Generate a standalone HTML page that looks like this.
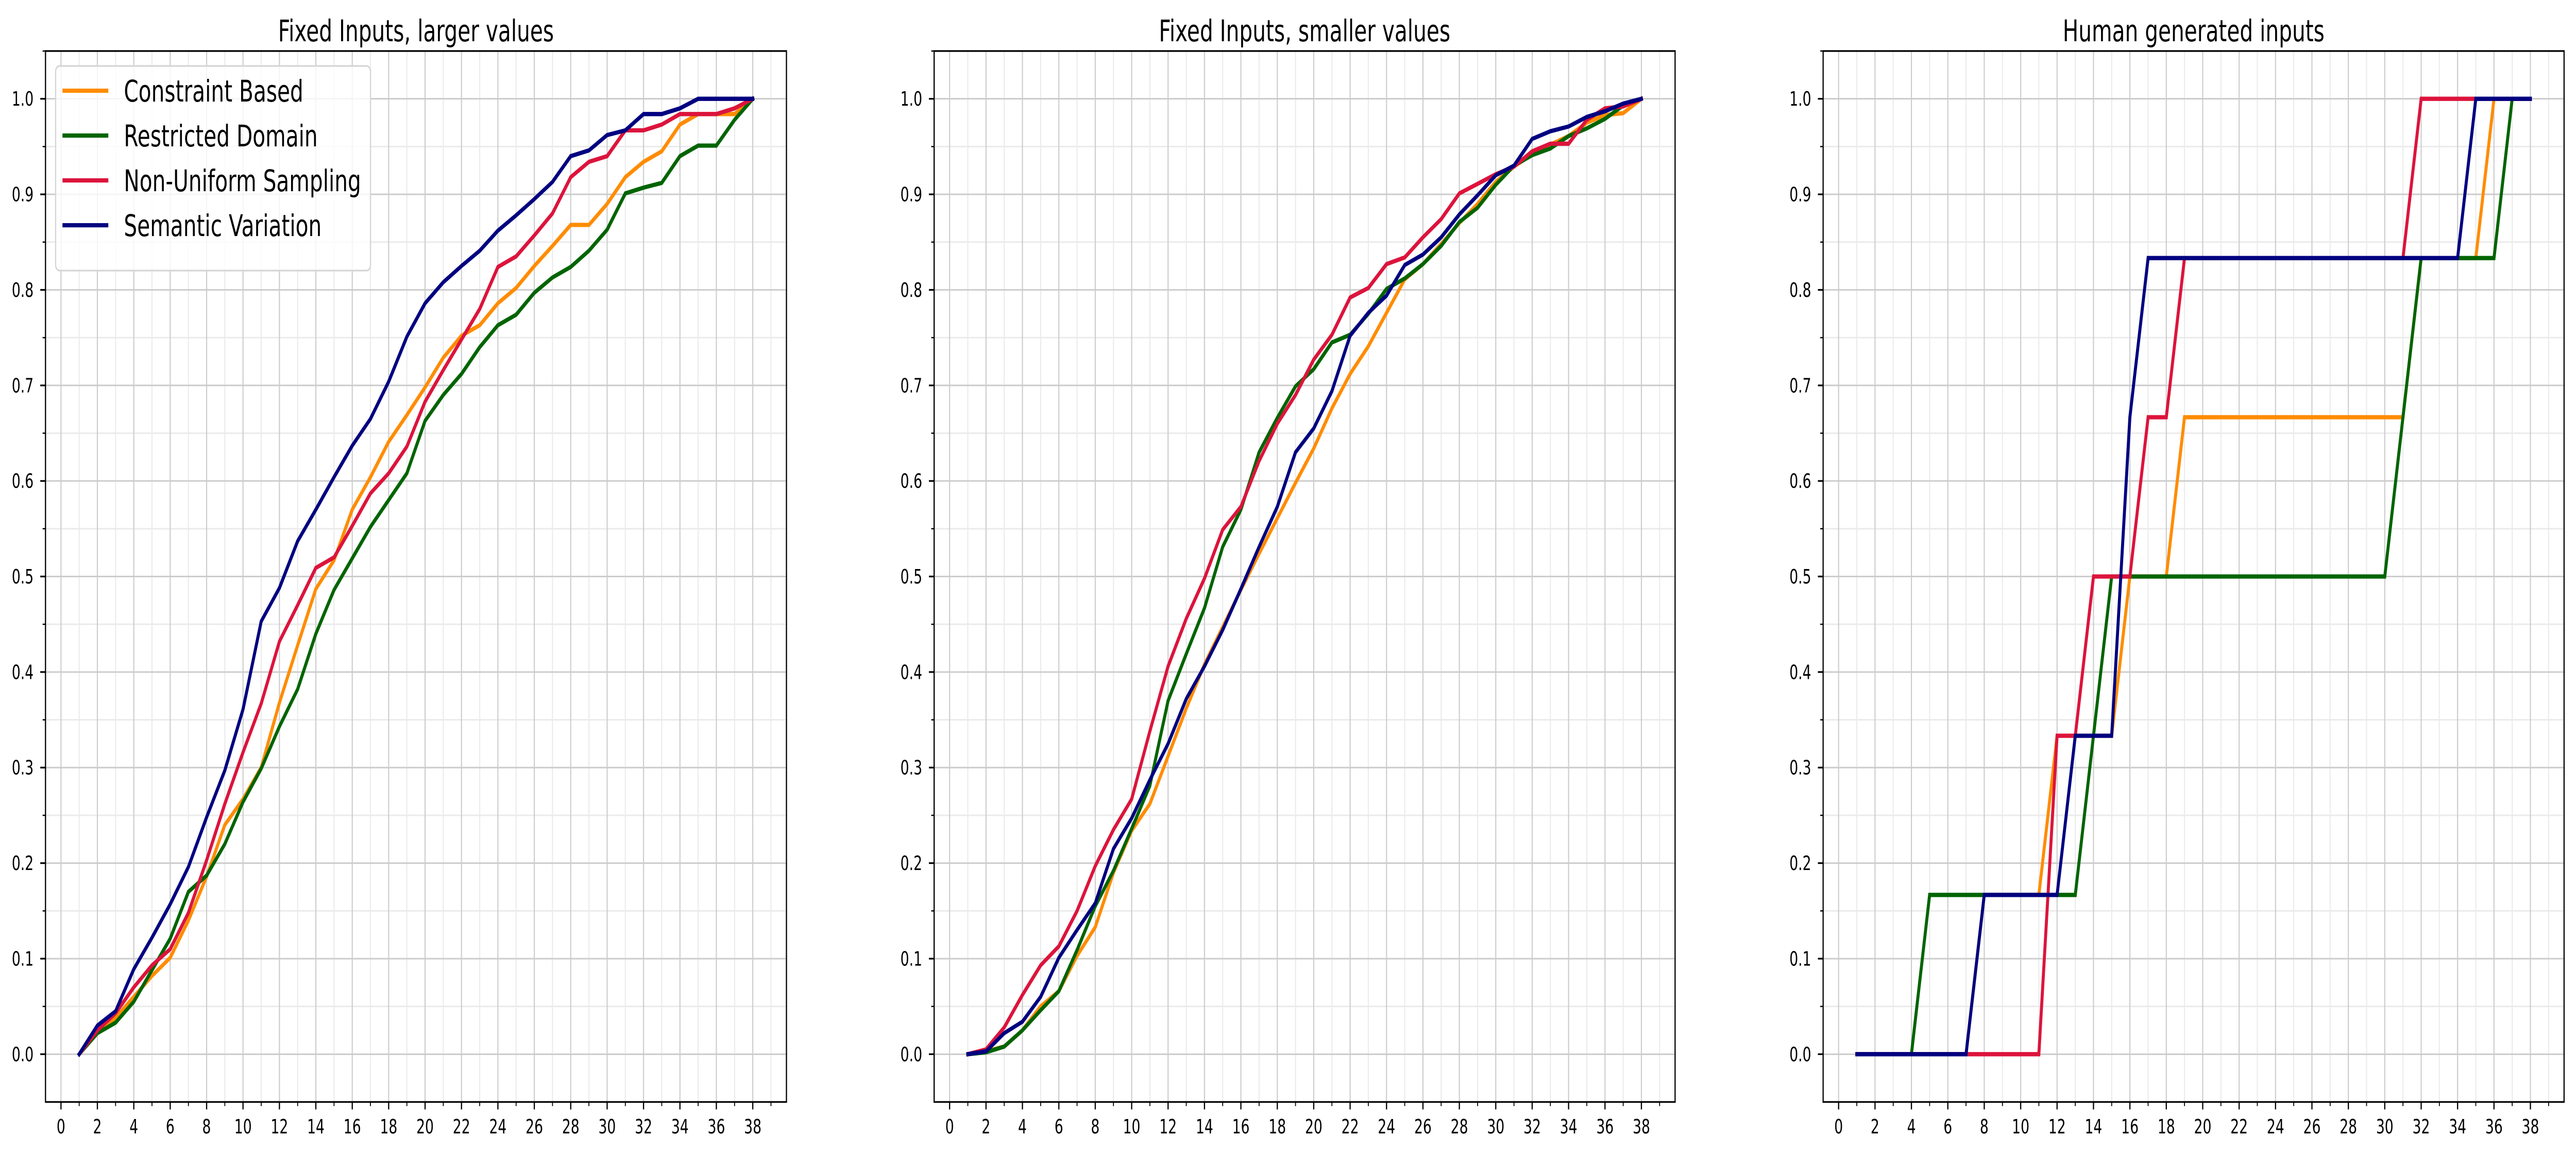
<!DOCTYPE html>
<html><head><meta charset="utf-8">
<style>
html,body{margin:0;padding:0;background:#fff;width:100%;height:100%;overflow:hidden;}
svg{display:block;width:100vw;height:100vh;}
text{font-family:"DejaVu Sans","Liberation Sans",sans-serif;fill:#000;}
</style></head>
<body>
<svg id="fig" viewBox="0 0 7134 2237" preserveAspectRatio="none" xmlns="http://www.w3.org/2000/svg">
<rect width="7134" height="2237" fill="#fff"/>
</svg>
<script>
// ---- data ----
const xValues = [1,2,3,4,5,6,7,8,9,10,11,12,13,14,15,16,17,18,19,20,21,22,23,24,25,26,27,28,29,30,31,32,33,34,35,36,37,38];
const seriesNames = ["Constraint Based","Restricted Domain","Non-Uniform Sampling","Semantic Variation"];
const seriesColors = ["#ff8c00","#006400","#dc143c","#000080"];
const panelTitles = ["Fixed Inputs, larger values","Fixed Inputs, smaller values","Human generated inputs"];
const xTickLabels = [0,2,4,6,8,10,12,14,16,18,20,22,24,26,28,30,32,34,36,38];
const yTickLabels = ["0.0","0.1","0.2","0.3","0.4","0.5","0.6","0.7","0.8","0.9","1.0"];

// Panel 1: Fixed Inputs, larger values
const p1Constraint = [0,0.022,0.038,0.060,0.082,0.101,0.140,0.186,0.240,0.267,0.300,0.368,0.428,0.487,0.517,0.570,0.604,0.641,0.669,0.698,0.729,0.752,0.763,0.786,0.802,0.825,0.846,0.868,0.868,0.890,0.918,0.934,0.945,0.973,0.984,0.984,0.984,1.0];
const p1Restricted = [0,0.022,0.033,0.055,0.088,0.121,0.170,0.187,0.220,0.264,0.299,0.343,0.382,0.440,0.486,0.519,0.552,0.580,0.608,0.663,0.690,0.712,0.740,0.763,0.774,0.797,0.813,0.824,0.841,0.863,0.901,0.907,0.912,0.940,0.951,0.951,0.978,1.0];
const p1NonUniform = [0,0.025,0.043,0.070,0.093,0.110,0.148,0.203,0.262,0.316,0.367,0.432,0.470,0.509,0.520,0.553,0.587,0.608,0.636,0.683,0.716,0.748,0.780,0.824,0.835,0.857,0.880,0.918,0.934,0.940,0.967,0.967,0.973,0.984,0.984,0.984,0.990,1.0];
const p1Semantic = [0,0.030,0.045,0.089,0.122,0.157,0.196,0.248,0.297,0.361,0.453,0.488,0.537,0.570,0.604,0.637,0.665,0.704,0.751,0.786,0.808,0.825,0.841,0.862,0.878,0.895,0.913,0.940,0.946,0.962,0.967,0.984,0.984,0.990,1.0,1.0,1.0,1.0];

// Panel 2: Fixed Inputs, smaller values
const p2Constraint = [0,0.003,0.008,0.025,0.050,0.066,0.103,0.133,0.190,0.234,0.262,0.312,0.362,0.408,0.447,0.486,0.524,0.561,0.598,0.634,0.676,0.712,0.741,0.776,0.811,0.827,0.848,0.870,0.890,0.913,0.929,0.942,0.952,0.961,0.975,0.983,0.985,1.0];
const p2Restricted = [0,0.002,0.008,0.025,0.046,0.066,0.109,0.155,0.192,0.236,0.281,0.370,0.419,0.467,0.531,0.570,0.630,0.666,0.699,0.717,0.745,0.753,0.775,0.801,0.812,0.827,0.846,0.871,0.886,0.910,0.930,0.941,0.948,0.961,0.969,0.979,0.993,1.0];
const p2NonUniform = [0,0.005,0.028,0.062,0.093,0.113,0.150,0.197,0.235,0.267,0.338,0.406,0.456,0.498,0.549,0.573,0.621,0.660,0.690,0.727,0.753,0.792,0.802,0.827,0.834,0.855,0.874,0.901,0.911,0.921,0.929,0.945,0.953,0.953,0.978,0.990,0.992,1.0];
const p2Semantic = [0,0.003,0.022,0.034,0.060,0.101,0.130,0.158,0.215,0.247,0.287,0.325,0.372,0.406,0.444,0.487,0.531,0.573,0.630,0.655,0.694,0.752,0.776,0.794,0.826,0.837,0.855,0.879,0.899,0.920,0.930,0.958,0.966,0.971,0.981,0.987,0.995,1.0];

// Panel 3: Human generated inputs
const p3Constraint = [0,0,0,0,0,0,0,0.1667,0.1667,0.1667,0.1667,0.3333,0.3333,0.3333,0.3333,0.5,0.5,0.5,0.6667,0.6667,0.6667,0.6667,0.6667,0.6667,0.6667,0.6667,0.6667,0.6667,0.6667,0.6667,0.6667,0.8333,0.8333,0.8333,0.8333,1,1,1];
const p3Restricted = [0,0,0,0,0.1667,0.1667,0.1667,0.1667,0.1667,0.1667,0.1667,0.1667,0.1667,0.3333,0.5,0.5,0.5,0.5,0.5,0.5,0.5,0.5,0.5,0.5,0.5,0.5,0.5,0.5,0.5,0.5,0.6667,0.8333,0.8333,0.8333,0.8333,0.8333,1,1];
const p3NonUniform = [0,0,0,0,0,0,0,0,0,0,0,0.3333,0.3333,0.5,0.5,0.5,0.6667,0.6667,0.8333,0.8333,0.8333,0.8333,0.8333,0.8333,0.8333,0.8333,0.8333,0.8333,0.8333,0.8333,0.8333,1,1,1,1,1,1,1];
const p3Semantic = [0,0,0,0,0,0,0,0.1667,0.1667,0.1667,0.1667,0.1667,0.3333,0.3333,0.3333,0.6667,0.8333,0.8333,0.8333,0.8333,0.8333,0.8333,0.8333,0.8333,0.8333,0.8333,0.8333,0.8333,0.8333,0.8333,0.8333,0.8333,0.8333,0.8333,1,1,1,1];

const panelSeries = [
  [p1Constraint,p1Restricted,p1NonUniform,p1Semantic],
  [p2Constraint,p2Restricted,p2NonUniform,p2Semantic],
  [p3Constraint,p3Restricted,p3NonUniform,p3Semantic]
];

// ---- layout ----
const NS = "http://www.w3.org/2000/svg";
const svg = document.getElementById("fig");
const panelLefts = [126, 2587, 5049];
const PW = 2052, TOP = 99, BOTTOM = 2138;
const XMIN = -0.85, XMAX = 39.85, YMIN = -0.05, YMAX = 1.05;

function mk(tag, attrs, parent){
  const e = document.createElementNS(NS, tag);
  for (const k in attrs) e.setAttribute(k, attrs[k]);
  (parent||svg).appendChild(e);
  return e;
}

panelTitles.forEach((title, p) => {
  const L = panelLefts[p];
  const sx = v => L + (v - XMIN) / (XMAX - XMIN) * PW;
  const sy = v => BOTTOM - (v - YMIN) / (YMAX - YMIN) * (BOTTOM - TOP);
  const g = mk("g", {});
  
  

  const clipId = "clip" + p;
  const cp = mk("clipPath", {id: clipId}, g);
  mk("rect", {x: L, y: TOP, width: PW, height: BOTTOM - TOP}, cp);

  const grid = mk("g", {}, g);
  
  
  for (let i = 1; i <= 39; i += 2) {
    mk("line", {x1: sx(i), x2: sx(i), y1: TOP, y2: BOTTOM, stroke: "#ebebeb", "stroke-width": 3}, grid);
  }
  for (let k = 0; k < 11; k++) {
    const v = k * 0.1 + 0.05;
    mk("line", {x1: L, x2: L + PW, y1: sy(v), y2: sy(v), stroke: "#ebebeb", "stroke-width": 3}, grid);
  }
  xTickLabels.forEach(t => {
    mk("line", {x1: sx(t), x2: sx(t), y1: TOP, y2: BOTTOM, stroke: "#cccccc", "stroke-width": 3}, grid);
  });
  yTickLabels.forEach(t => {
    const v = parseFloat(t);
    mk("line", {x1: L, x2: L + PW, y1: sy(v), y2: sy(v), stroke: "#cccccc", "stroke-width": 3}, grid);
  });

  const series = panelSeries[p];
  series.forEach((vals, s) => {
    const pts = vals.map((v, i) => sx(xValues[i]).toFixed(1) + "," + sy(v).toFixed(1)).join(" ");
    const pl = mk("polyline", {points: pts, fill: "none", stroke: seriesColors[s], "stroke-width": 8.3, "stroke-linejoin": "miter", "stroke-linecap": "square", "clip-path": "url(#" + clipId + ")"}, g);
    
    
  });

  const frame = mk("rect", {x: L, y: TOP, width: PW, height: BOTTOM - TOP, fill: "none", stroke: "#000", "stroke-width": 3.3}, g);
  
  

  const xax = mk("g", {}, g);
  
  
  for (let i = 1; i <= 39; i += 2) {
    mk("line", {x1: sx(i), x2: sx(i), y1: BOTTOM, y2: BOTTOM + 8, stroke: "#000", "stroke-width": 2.5}, xax);
  }
  xTickLabels.forEach(t => {
    mk("line", {x1: sx(t), x2: sx(t), y1: BOTTOM, y2: BOTTOM + 14.5, stroke: "#000", "stroke-width": 3.3}, xax);
    const tx = mk("text", {x: sx(t), y: 2199, "font-size": 38, "text-anchor": "middle"}, xax);
    tx.textContent = t;
    
    
  });
  const yax = mk("g", {}, g);
  
  
  for (let k = 0; k < 11; k++) {
    const v = k * 0.1 + 0.05;
    mk("line", {x1: L - 8, x2: L, y1: sy(v), y2: sy(v), stroke: "#000", "stroke-width": 2.5}, yax);
  }
  yTickLabels.forEach(t => {
    const v = parseFloat(t);
    mk("line", {x1: L - 14.5, x2: L, y1: sy(v), y2: sy(v), stroke: "#000", "stroke-width": 3.3}, yax);
    const ty = mk("text", {x: L - 33, y: sy(v) + 13.5, "font-size": 38, "text-anchor": "end"}, yax);
    ty.textContent = t;
    
    
  });

  const tt = mk("text", {x: L + PW / 2, y: 80, "font-size": 58, "text-anchor": "middle"}, g);
  tt.textContent = title;
  
  

  if (p === 0) {
    const lg = mk("g", {}, g);
    
    
    mk("rect", {x: 154, y: 128, width: 872, height: 397, rx: 11, fill: "#fff", "fill-opacity": 0.8, stroke: "#d5d5d5", "stroke-width": 3.3}, lg);
    seriesNames.forEach((n, s) => {
      const yy = 176 + s * 87;
      const ent = mk("g", {}, lg);
      
      
      mk("line", {x1: 173, x2: 300, y1: yy, y2: yy, stroke: seriesColors[s], "stroke-width": 8.3}, ent);
      const lt = mk("text", {x: 343, y: yy + 21, "font-size": 58}, ent);
      lt.textContent = n;
    });
  }
});
</script>
</body></html>
